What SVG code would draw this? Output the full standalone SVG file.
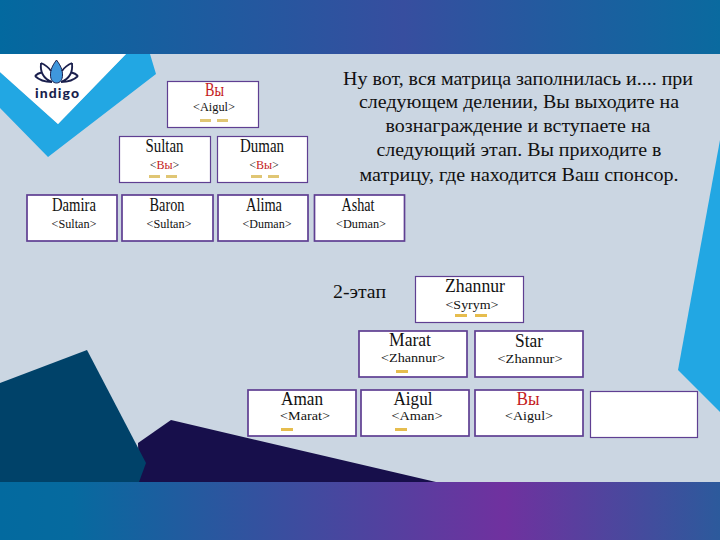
<svg xmlns="http://www.w3.org/2000/svg" width="720" height="540" viewBox="0 0 720 540">
<style>
.box{fill:#fff;stroke:#5f3f92;stroke-width:1.2}
.thick{stroke-width:1.7}
.n{font-family:"Liberation Serif","Times New Roman",serif;font-size:18px;fill:#111;text-anchor:middle}
.s{font-family:"Liberation Serif","Times New Roman",serif;font-size:13px;fill:#111;text-anchor:middle}
.v{font-size:12px}
.r{fill:#c41a22}
.d{fill:#e0c674}
.o{fill:#e6bd4e}
.t{font-family:"Liberation Serif","Times New Roman",serif;font-size:18px;fill:#111;text-anchor:middle}
.p{fill:none;stroke:#1a1f4d;stroke-width:1.8;stroke-linejoin:round}
</style>
<defs>
<linearGradient id="top" x1="0" x2="720" y1="0" y2="0" gradientUnits="userSpaceOnUse"><stop offset="0" stop-color="#03699f"/><stop offset=".56" stop-color="#374e9f"/><stop offset="1" stop-color="#0a6a9f"/></linearGradient>
<linearGradient id="bot" x1="0" x2="720" y1="0" y2="0" gradientUnits="userSpaceOnUse"><stop offset="0" stop-color="#036a9f"/><stop offset=".1" stop-color="#066a9f"/><stop offset=".7" stop-color="#70319f"/><stop offset="1" stop-color="#2c5a9c"/></linearGradient>
<g id="half"><path class="p" d="M41,63 C46,65 49,68 51,71 M41,63 C40,72 44,79 52,82 M35,76 C37,74 39,73 41.500,72.500 M35,76 C39,80 45,82 52,82"/></g>
</defs>
<rect width="720" height="540" fill="#cbd6e2"/>
<rect width="720" height="54" fill="url(#top)"/>
<polygon points="720,140 678,370 720,412" fill="#22a7e3"/>
<polygon points="171,420 138,443 139,482 436,482" fill="#170f4b"/>
<polygon points="0,383 87,350 146,463 139,482 0,482" fill="#004269"/>
<rect y="482" width="720" height="58" fill="url(#bot)"/>
<polygon points="0,72 0,108 48,157 156,74 150,54 126,54 58,124" fill="#22a7e3"/>
<polygon points="0,54 126,54 58,124 0,72" fill="#fff"/>
<g id="logo">
<path d="M56.500,60 C52,66 50.500,70 50.500,75 C50.500,80 53,83 56.500,83 C60,83 62.500,80 62.500,75 C62.500,70 61,66 56.500,60Z" fill="#3f97dc" stroke="#1a1f4d" stroke-width="1"/>
<use href="#half"/>
<use href="#half" transform="translate(113,0) scale(-1,1)"/>
<text x="57" y="98" text-anchor="middle" font-family="Lato,'Open Sans',sans-serif" font-weight="900" font-size="14" textLength="44" fill="#1a1f4d">indigo</text>
</g>
<g id="intro">
<text class="t" x="518" y="85" textLength="350" lengthAdjust="spacingAndGlyphs">Ну вот, вся матрица заполнилась и.... при</text>
<text class="t" x="519" y="108" textLength="320" lengthAdjust="spacingAndGlyphs">следующем делении, Вы выходите на</text>
<text class="t" x="518" y="132" textLength="265" lengthAdjust="spacingAndGlyphs">вознаграждение и вступаете на</text>
<text class="t" x="519" y="156" textLength="285" lengthAdjust="spacingAndGlyphs">следующий этап. Вы приходите в</text>
<text class="t" x="519" y="181" textLength="319" lengthAdjust="spacingAndGlyphs">матрицу, где находится Ваш спонсор.</text>
</g>
<text id="stage2" class="t" x="359.500" y="298" font-size="17" textLength="53" lengthAdjust="spacingAndGlyphs">2-этап</text>

<g id="n-vy-top"><rect class="box" x="167.500" y="81.500" width="91" height="46"/><text class="n r" x="214.500" y="96" textLength="19" lengthAdjust="spacingAndGlyphs">Вы</text><text class="s" x="214" y="111" textLength="42" lengthAdjust="spacingAndGlyphs">&lt;Aigul&gt;</text><rect class="d" x="200" y="119" width="11" height="3"/><rect class="d" x="217" y="119" width="11" height="3"/></g>
<g id="n-sultan"><rect class="box" x="119.500" y="136.500" width="91" height="46"/><text class="n" x="164.500" y="152" textLength="38" lengthAdjust="spacingAndGlyphs">Sultan</text><text class="s v" x="164.500" y="169">&lt;<tspan class="r">Вы</tspan>&gt;</text><rect class="d" x="149" y="175" width="11" height="3"/><rect class="d" x="166" y="175" width="11" height="3"/></g>
<g id="n-duman"><rect class="box" x="217.500" y="136.500" width="90" height="46"/><text class="n" x="262" y="152" textLength="44" lengthAdjust="spacingAndGlyphs">Duman</text><text class="s v" x="264" y="169">&lt;<tspan class="r">Вы</tspan>&gt;</text><rect class="d" x="251" y="175" width="11" height="3"/><rect class="d" x="268" y="175" width="11" height="3"/></g>

<g id="n-damira"><rect class="box thick" x="27" y="195" width="90" height="46"/><text class="n" x="74" y="211" textLength="44" lengthAdjust="spacingAndGlyphs">Damira</text><text class="s" x="74" y="228" textLength="45" lengthAdjust="spacingAndGlyphs">&lt;Sultan&gt;</text></g>
<g id="n-baron"><rect class="box thick" x="122" y="195" width="91" height="46"/><text class="n" x="167" y="211" textLength="35" lengthAdjust="spacingAndGlyphs">Baron</text><text class="s" x="169" y="228" textLength="45" lengthAdjust="spacingAndGlyphs">&lt;Sultan&gt;</text></g>
<g id="n-alima"><rect class="box thick" x="218" y="195" width="90" height="46"/><text class="n" x="264" y="211" textLength="36" lengthAdjust="spacingAndGlyphs">Alima</text><text class="s" x="267" y="228" textLength="49" lengthAdjust="spacingAndGlyphs">&lt;Duman&gt;</text></g>
<g id="n-ashat"><rect class="box thick" x="314.500" y="195" width="90" height="46"/><text class="n" x="358" y="211" textLength="33" lengthAdjust="spacingAndGlyphs">Ashat</text><text class="s" x="361" y="228" textLength="50" lengthAdjust="spacingAndGlyphs">&lt;Duman&gt;</text></g>

<g id="n-zhannur"><rect class="box" x="415.500" y="276.500" width="108" height="46"/><text class="n" x="475" y="292" textLength="60" lengthAdjust="spacingAndGlyphs">Zhannur</text><text class="s" x="472" y="309" textLength="53" lengthAdjust="spacingAndGlyphs">&lt;Syrym&gt;</text><rect class="o" x="455" y="314" width="12" height="3"/><rect class="o" x="475" y="314" width="12" height="3"/></g>
<g id="n-marat"><rect class="box thick" x="359" y="331" width="108" height="46"/><text class="n" x="410" y="346" textLength="42" lengthAdjust="spacingAndGlyphs">Marat</text><text class="s" x="413" y="362" textLength="64" lengthAdjust="spacingAndGlyphs">&lt;Zhannur&gt;</text><rect class="o" x="396" y="370" width="12" height="3"/></g>
<g id="n-star"><rect class="box thick" x="475" y="331" width="108" height="46"/><text class="n" x="529" y="346.500" textLength="28" lengthAdjust="spacingAndGlyphs">Star</text><text class="s" x="530" y="363" textLength="65" lengthAdjust="spacingAndGlyphs">&lt;Zhannur&gt;</text></g>

<g id="n-aman"><rect class="box thick" x="248" y="390" width="108" height="46"/><text class="n" x="302" y="405" textLength="42" lengthAdjust="spacingAndGlyphs">Aman</text><text class="s" x="305" y="420" textLength="50" lengthAdjust="spacingAndGlyphs">&lt;Marat&gt;</text><rect class="o" x="281" y="428" width="12" height="3"/></g>
<g id="n-aigul"><rect class="box thick" x="361" y="390" width="108" height="46"/><text class="n" x="413" y="405" textLength="39" lengthAdjust="spacingAndGlyphs">Aigul</text><text class="s" x="417" y="420" textLength="51" lengthAdjust="spacingAndGlyphs">&lt;Aman&gt;</text><rect class="o" x="395" y="428" width="12" height="3"/></g>
<g id="n-vy-2"><rect class="box thick" x="475" y="390" width="108" height="46"/><text class="n r" x="528" y="405" textLength="23" lengthAdjust="spacingAndGlyphs">Вы</text><text class="s" x="529" y="420" textLength="48" lengthAdjust="spacingAndGlyphs">&lt;Aigul&gt;</text></g>
<g id="n-empty"><rect class="box" x="590.500" y="391.500" width="107" height="46"/></g>
<g id="connectors"/>
</svg>
